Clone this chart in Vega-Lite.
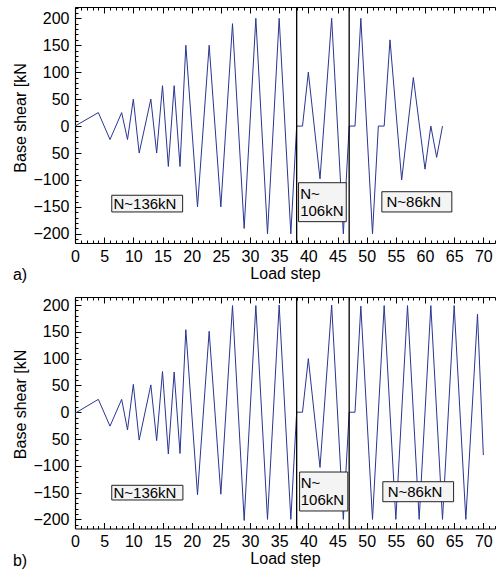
{
  "$schema": "https://vega.github.io/schema/vega-lite/v6.json",
  "padding": {"left": 12, "top": 6, "right": 0, "bottom": 0},
  "background": "white",
  "config": {
    "view": {"stroke": null},
    "font": "Liberation Sans",
    "axis": {
      "grid": false,
      "domainColor": "black",
      "domainWidth": 1.2,
      "tickColor": "black",
      "tickWidth": 1,
      "labelColor": "black",
      "titleColor": "black",
      "labelFont": "Liberation Sans",
      "titleFont": "Liberation Sans",
      "labelFontSize": 16,
      "titleFontSize": 16,
      "titleFontWeight": "normal",
      "labelOverlap": false,
      "labelFlush": false
    },
    "title": {"font": "Liberation Sans", "fontSize": 16, "fontWeight": "normal", "color": "black"}
  },
  "datasets": {
    "a": [
      {"step": 0, "shear": 0}, {"step": 4, "shear": 25}, {"step": 6, "shear": -25}, {"step": 8, "shear": 25},
      {"step": 9, "shear": -25}, {"step": 10, "shear": 50}, {"step": 11, "shear": -50}, {"step": 13, "shear": 50},
      {"step": 14, "shear": -50}, {"step": 15, "shear": 75}, {"step": 16, "shear": -75}, {"step": 17, "shear": 75},
      {"step": 18, "shear": -75}, {"step": 19, "shear": 150}, {"step": 21, "shear": -150}, {"step": 23, "shear": 150},
      {"step": 25, "shear": -150}, {"step": 27, "shear": 190}, {"step": 29, "shear": -190}, {"step": 31, "shear": 200},
      {"step": 33, "shear": -200}, {"step": 35, "shear": 200}, {"step": 37, "shear": -200}, {"step": 38, "shear": 0},
      {"step": 39, "shear": 0}, {"step": 40, "shear": 100}, {"step": 42, "shear": -98}, {"step": 44, "shear": 200},
      {"step": 46, "shear": -200}, {"step": 47, "shear": 0}, {"step": 48, "shear": 0}, {"step": 49, "shear": 200},
      {"step": 51, "shear": -200}, {"step": 52, "shear": 0}, {"step": 53, "shear": 0}, {"step": 54, "shear": 160},
      {"step": 56, "shear": -100}, {"step": 58, "shear": 90}, {"step": 60, "shear": -80}, {"step": 61, "shear": 0},
      {"step": 62, "shear": -58}, {"step": 63, "shear": 0}
    ],
    "b": [
      {"step": 0, "shear": -2}, {"step": 4, "shear": 24}, {"step": 6, "shear": -26}, {"step": 8, "shear": 24},
      {"step": 9, "shear": -33}, {"step": 10, "shear": 52}, {"step": 11, "shear": -52}, {"step": 13, "shear": 51},
      {"step": 14, "shear": -53}, {"step": 15, "shear": 76}, {"step": 16, "shear": -78}, {"step": 17, "shear": 75},
      {"step": 18, "shear": -77}, {"step": 19, "shear": 154}, {"step": 21, "shear": -154}, {"step": 23, "shear": 151},
      {"step": 25, "shear": -153}, {"step": 27, "shear": 199}, {"step": 29, "shear": -202}, {"step": 31, "shear": 199},
      {"step": 33, "shear": -200}, {"step": 35, "shear": 200}, {"step": 37, "shear": -200}, {"step": 38, "shear": 0},
      {"step": 39, "shear": 0}, {"step": 40, "shear": 100}, {"step": 42, "shear": -103}, {"step": 44, "shear": 200},
      {"step": 46, "shear": -200}, {"step": 47, "shear": 0}, {"step": 48, "shear": 0}, {"step": 49, "shear": 198},
      {"step": 51, "shear": -200}, {"step": 53, "shear": 199}, {"step": 55, "shear": -200}, {"step": 57, "shear": 199},
      {"step": 59, "shear": -200}, {"step": 61, "shear": 199}, {"step": 63, "shear": -200}, {"step": 65, "shear": 199},
      {"step": 67, "shear": -200}, {"step": 69, "shear": 183}, {"step": 70, "shear": -80}
    ],
    "dividers": [{"step": 38}, {"step": 47}],
    "boxes_a": [
      {"x": 6.3, "x2": 18.45, "y": -128.4, "y2": -159.4, "tx": 6.6, "ty": -144, "label": "N~136kN"},
      {"x": 38.32, "x2": 46.5, "y": -105.1, "y2": -177.4, "tx": 38.6, "ty": -125.5, "label": "N~\n106kN"},
      {"x": 52.6, "x2": 64.6, "y": -121.8, "y2": -159.4, "tx": 53.4, "ty": -140.6, "label": "N~86kN"}
    ],
    "boxes_b": [
      {"x": 6.3, "x2": 18.5, "y": -136.4, "y2": -163.8, "tx": 6.6, "ty": -150.2, "label": "N~136kN"},
      {"x": 38.5, "x2": 46.77, "y": -111.6, "y2": -184.3, "tx": 38.7, "ty": -132.2, "label": "N~\n106kN"},
      {"x": 52.77, "x2": 64.9, "y": -129.7, "y2": -167, "tx": 53.6, "ty": -148.3, "label": "N~86kN"}
    ]
  },
  "vconcat": [
    {
      "width": 420,
      "height": 236,
      "title": {"text": "a)", "orient": "bottom", "anchor": "start", "frame": "bounds", "offset": -14},
      "layer": [
        {
          "data": {"name": "a"},
          "mark": {"type": "line", "color": "#2a3592", "strokeWidth": 1},
          "encoding": {
            "x": {
              "field": "step", "type": "quantitative",
              "scale": {"domain": [0, 72], "nice": false, "zero": false},
              "axis": {
                "orient": "bottom", "title": "Load step", "titlePadding": 1,
                "values": [0,5,10,15,20,25,30,35,40,45,50,55,60,65,70],
                "ticks": false, "labelPadding": 5
              }
            },
            "y": {
              "field": "shear", "type": "quantitative",
              "scale": {"domain": [-217, 221], "nice": false, "zero": false},
              "axis": {
                "orient": "left", "title": "Base shear [kN", "titlePadding": 4, "titleY": 110.5,
                "values": [-200,-150,-100,-50,0,50,100,150,200],
                "labelExpr": "datum.value === -50 ? '50' : datum.label",
                "ticks": false, "labelPadding": 6
              }
            }
          }
        },
        {
          "data": {"name": "dividers"},
          "mark": {"type": "rule", "color": "black", "strokeWidth": 1.3},
          "encoding": {
            "x": {
              "field": "step", "type": "quantitative",
              "axis": {
                "orient": "top", "title": null, "labels": false,
                "values": [0,1,2,3,4,5,6,7,8,9,10,11,12,13,14,15,16,17,18,19,20,21,22,23,24,25,26,27,28,29,30,31,32,33,34,35,36,37,38,39,40,41,42,43,44,45,46,47,48,49,50,51,52,53,54,55,56,57,58,59,60,61,62,63,64,65,66,67,68,69,70,71,72],
                "tickSize": {"condition": {"test": "datum.value % 5 === 0", "value": -6}, "value": -3}
              }
            }
          }
        },
        {
          "data": {"name": "boxes_a"},
          "mark": {"type": "rect", "fill": "#f4f4f4", "stroke": "#222222", "strokeWidth": 1},
          "encoding": {
            "x": {
              "field": "x", "type": "quantitative",
              "axis": {
                "orient": "bottom", "title": null, "labels": false, "domain": false,
                "values": [0,1,2,3,4,5,6,7,8,9,10,11,12,13,14,15,16,17,18,19,20,21,22,23,24,25,26,27,28,29,30,31,32,33,34,35,36,37,38,39,40,41,42,43,44,45,46,47,48,49,50,51,52,53,54,55,56,57,58,59,60,61,62,63,64,65,66,67,68,69,70,71,72],
                "tickSize": {"condition": {"test": "datum.value % 5 === 0", "value": -6}, "value": -3}
              }
            },
            "x2": {"field": "x2"},
            "y": {
              "field": "y", "type": "quantitative",
              "axis": {
                "orient": "left", "title": null, "labels": false, "domain": false,
                "values": [-210,-200,-190,-180,-170,-160,-150,-140,-130,-120,-110,-100,-90,-80,-70,-60,-50,-40,-30,-20,-10,0,10,20,30,40,50,60,70,80,90,100,110,120,130,140,150,160,170,180,190,200,210,220],
                "tickSize": {"condition": {"test": "datum.value % 50 === 0", "value": -6}, "value": -3}
              }
            },
            "y2": {"field": "y2"}
          }
        },
        {
          "data": {"name": "boxes_a"},
          "mark": {"type": "text", "align": "left", "baseline": "middle", "fontSize": 15, "font": "Liberation Sans", "color": "black", "lineBreak": "\n", "lineHeight": 17},
          "encoding": {
            "x": {"field": "tx", "type": "quantitative", "axis": null},
            "y": {"field": "ty", "type": "quantitative", "axis": null},
            "text": {"field": "label"}
          }
        }
      ],
      "resolve": {"axis": {"x": "independent", "y": "independent"}}
    },
    {
      "width": 420,
      "height": 231.5,
      "title": {"text": "b)", "orient": "bottom", "anchor": "start", "frame": "bounds", "offset": -14},
      "layer": [
        {
          "data": {"name": "b"},
          "mark": {"type": "line", "color": "#2a3592", "strokeWidth": 1},
          "encoding": {
            "x": {
              "field": "step", "type": "quantitative",
              "scale": {"domain": [0, 72], "nice": false, "zero": false},
              "axis": {
                "orient": "bottom", "title": "Load step", "titlePadding": 1,
                "values": [0,5,10,15,20,25,30,35,40,45,50,55,60,65,70],
                "ticks": false, "labelPadding": 5
              }
            },
            "y": {
              "field": "shear", "type": "quantitative",
              "scale": {"domain": [-217, 215], "nice": false, "zero": false},
              "axis": {
                "orient": "left", "title": "Base shear [kN", "titlePadding": 4, "titleY": 107,
                "values": [-200,-150,-100,-50,0,50,100,150,200],
                "labelExpr": "datum.value === -50 ? '50' : datum.label",
                "ticks": false, "labelPadding": 6
              }
            }
          }
        },
        {
          "data": {"name": "dividers"},
          "mark": {"type": "rule", "color": "black", "strokeWidth": 1.3},
          "encoding": {
            "x": {
              "field": "step", "type": "quantitative",
              "axis": {
                "orient": "top", "title": null, "labels": false,
                "values": [0,1,2,3,4,5,6,7,8,9,10,11,12,13,14,15,16,17,18,19,20,21,22,23,24,25,26,27,28,29,30,31,32,33,34,35,36,37,38,39,40,41,42,43,44,45,46,47,48,49,50,51,52,53,54,55,56,57,58,59,60,61,62,63,64,65,66,67,68,69,70,71,72],
                "tickSize": {"condition": {"test": "datum.value % 5 === 0", "value": -6}, "value": -3}
              }
            }
          }
        },
        {
          "data": {"name": "boxes_b"},
          "mark": {"type": "rect", "fill": "#f4f4f4", "stroke": "#222222", "strokeWidth": 1},
          "encoding": {
            "x": {
              "field": "x", "type": "quantitative",
              "axis": {
                "orient": "bottom", "title": null, "labels": false, "domain": false,
                "values": [0,1,2,3,4,5,6,7,8,9,10,11,12,13,14,15,16,17,18,19,20,21,22,23,24,25,26,27,28,29,30,31,32,33,34,35,36,37,38,39,40,41,42,43,44,45,46,47,48,49,50,51,52,53,54,55,56,57,58,59,60,61,62,63,64,65,66,67,68,69,70,71,72],
                "tickSize": {"condition": {"test": "datum.value % 5 === 0", "value": -6}, "value": -3}
              }
            },
            "x2": {"field": "x2"},
            "y": {
              "field": "y", "type": "quantitative",
              "axis": {
                "orient": "left", "title": null, "labels": false, "domain": false,
                "values": [-210,-200,-190,-180,-170,-160,-150,-140,-130,-120,-110,-100,-90,-80,-70,-60,-50,-40,-30,-20,-10,0,10,20,30,40,50,60,70,80,90,100,110,120,130,140,150,160,170,180,190,200,210],
                "tickSize": {"condition": {"test": "datum.value % 50 === 0", "value": -6}, "value": -3}
              }
            },
            "y2": {"field": "y2"}
          }
        },
        {
          "data": {"name": "boxes_b"},
          "mark": {"type": "text", "align": "left", "baseline": "middle", "fontSize": 15, "font": "Liberation Sans", "color": "black", "lineBreak": "\n", "lineHeight": 17},
          "encoding": {
            "x": {"field": "tx", "type": "quantitative", "axis": null},
            "y": {"field": "ty", "type": "quantitative", "axis": null},
            "text": {"field": "label"}
          }
        }
      ],
      "resolve": {"axis": {"x": "independent", "y": "independent"}}
    }
  ],
  "spacing": 54,
  "bounds": "flush",
  "resolve": {"scale": {"x": "independent", "y": "independent"}}
}
